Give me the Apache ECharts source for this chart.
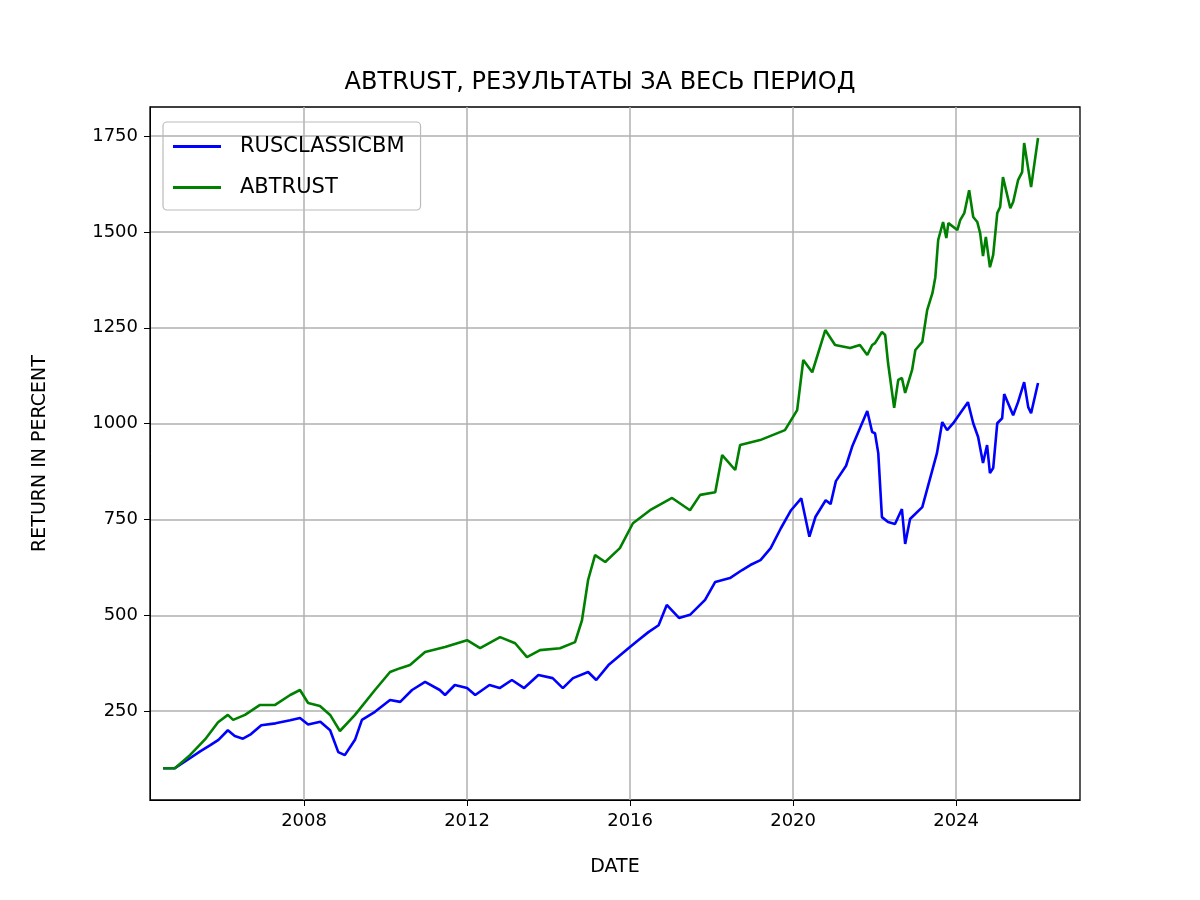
<!DOCTYPE html>
<html><head><meta charset="utf-8">
<script src="https://cdn.jsdelivr.net/npm/echarts@6/dist/echarts.min.js"></script>
<style>html,body{margin:0;padding:0;background:#fff}#c{width:1200px;height:900px}</style>
</head><body><div id="c"></div>
<script>
const xTicks = [2008, 2012, 2016, 2020, 2024];
const yTicks = [250, 500, 750, 1000, 1250, 1500, 1750];
const blueYears = [2004.54,2004.83,2005.2,2005.45,2005.7,2005.9,2006.13,2006.3,2006.5,2006.7,2006.95,2007.3,2007.66,2007.9,2008.1,2008.4,2008.64,2008.84,2009.0,2009.25,2009.42,2009.74,2010.11,2010.36,2010.65,2010.97,2011.33,2011.46,2011.7,2012.0,2012.2,2012.55,2012.8,2013.1,2013.4,2013.75,2014.1,2014.35,2014.6,2014.97,2015.17,2015.47,2015.96,2016.2,2016.45,2016.7,2016.9,2017.2,2017.47,2017.84,2018.09,2018.45,2018.75,2018.95,2019.2,2019.45,2019.7,2019.95,2020.2,2020.4,2020.55,2020.8,2020.92,2021.05,2021.3,2021.45,2021.64,2021.82,2021.94,2022.01,2022.09,2022.18,2022.33,2022.5,2022.67,2022.75,2022.87,2023.17,2023.53,2023.66,2023.78,2023.93,2024.1,2024.29,2024.42,2024.54,2024.66,2024.76,2024.83,2024.91,2025.01,2025.13,2025.18,2025.4,2025.52,2025.67,2025.77,2025.84,2026.01];
const blueValues = [101,101,127,145,161,175,200,185,178,190,213,218,226,232,215,222,200,143,135,175,227,248,279,274,305,326,305,292,318,310,292,318,310,331,310,344,336,310,336,352,331,370,414,435,456,474,527,493,501,540,587,597,618,631,644,675,727,774,805,705,757,800,790,850,890,940,988,1033,978,975,923,756,743,738,777,686,751,782,923,1004,983,1001,1027,1056,1001,965,897,944,871,884,1001,1014,1077,1022,1056,1108,1043,1027,1106];
const greenYears = [2004.54,2004.83,2005.2,2005.57,2005.89,2006.13,2006.26,2006.55,2006.92,2007.29,2007.66,2007.9,2008.1,2008.39,2008.64,2008.88,2009.25,2009.74,2010.11,2010.36,2010.6,2010.97,2011.46,2012.0,2012.32,2012.81,2013.18,2013.47,2013.79,2014.28,2014.65,2014.82,2014.97,2015.14,2015.39,2015.75,2016.07,2016.49,2017.03,2017.47,2017.72,2018.09,2018.26,2018.58,2018.7,2019.19,2019.8,2020.1,2020.25,2020.47,2020.79,2021.03,2021.4,2021.64,2021.82,2021.94,2022.01,2022.18,2022.26,2022.33,2022.48,2022.58,2022.67,2022.75,2022.92,2023.0,2023.17,2023.29,2023.42,2023.49,2023.56,2023.68,2023.76,2023.81,2024.03,2024.1,2024.2,2024.32,2024.42,2024.52,2024.59,2024.66,2024.73,2024.83,2024.91,2025.01,2025.08,2025.15,2025.33,2025.4,2025.52,2025.62,2025.67,2025.84,2026.01];
const greenValues = [101,101,135,176,221,240,227,240,266,266,292,305,271,263,240,198,240,305,352,362,370,404,417,435,414,443,427,391,409,414,430,487,592,657,639,675,740,774,806,774,814,821,918,879,944,957,983,1035,1166,1134,1244,1205,1197,1205,1179,1205,1210,1239,1231,1158,1041,1114,1119,1080,1140,1192,1213,1296,1341,1382,1479,1526,1484,1523,1505,1531,1549,1609,1539,1526,1497,1437,1487,1408,1440,1549,1565,1643,1562,1578,1635,1656,1732,1617,1745];
const pair = (xs, ys) => xs.map((x, i) => [x, ys[i]]);
const F = 'DejaVu Sans';
const chart = echarts.init(document.getElementById('c'));
chart.setOption({
  animation: false,
  title: { text: 'ABTRUST, РЕЗУЛЬТАТЫ ЗА ВЕСЬ ПЕРИОД', left: 'center', top: 66,
    textStyle: { fontFamily: F, fontSize: 24, fontWeight: 'normal', color: '#000' } },
  legend: { orient: 'vertical', left: 163, top: 122, itemWidth: 48, itemHeight: 3, itemGap: 20,
    padding: [14, 16, 12, 10], borderColor: '#bbb', borderWidth: 1.2, borderRadius: 4,
    icon: 'rect', textStyle: { fontFamily: F, fontSize: 21, color: '#000', padding: [0, 0, 0, 14] },
    data: ['RUSCLASSICBM', 'ABTRUST'] },
  grid: { left: 150, right: 120, top: 107, bottom: 100, show: true, borderColor: '#000', borderWidth: 1.3 },
  xAxis: { type: 'value', min: 2004.22, max: 2027.04, name: 'DATE', nameLocation: 'middle', nameGap: 58,
    nameTextStyle: { fontFamily: F, fontSize: 19, color: '#000' },
    axisLine: { show: true, lineStyle: { color: '#000' } },
    axisTick: { show: true, customValues: xTicks, length: 6, lineStyle: { color: '#000' } },
    axisLabel: { customValues: xTicks, fontFamily: F, fontSize: 18, color: '#000', margin: 12, formatter: v => String(v) },
    splitLine: { show: true, lineStyle: { color: '#b0b0b0', width: 1.5 } } },
  yAxis: { type: 'value', min: 18, max: 1826, name: 'RETURN IN PERCENT', nameLocation: 'middle', nameGap: 100,
    nameTextStyle: { fontFamily: F, fontSize: 19, color: '#000' },
    axisLine: { show: true, lineStyle: { color: '#000' } },
    axisTick: { show: true, customValues: yTicks, length: 6, lineStyle: { color: '#000' } },
    axisLabel: { customValues: yTicks, fontFamily: F, fontSize: 18, color: '#000', margin: 12, formatter: v => String(v) },
    splitLine: { show: true, lineStyle: { color: '#b0b0b0', width: 1.5 } } },
  series: [
    { name: 'RUSCLASSICBM', type: 'line', data: pair(blueYears, blueValues), showSymbol: false, color: '#0000ff', lineStyle: { width: 2.6 } },
    { name: 'ABTRUST', type: 'line', data: pair(greenYears, greenValues), showSymbol: false, color: '#008000', lineStyle: { width: 2.6 } }
  ]
});
</script></body></html>
